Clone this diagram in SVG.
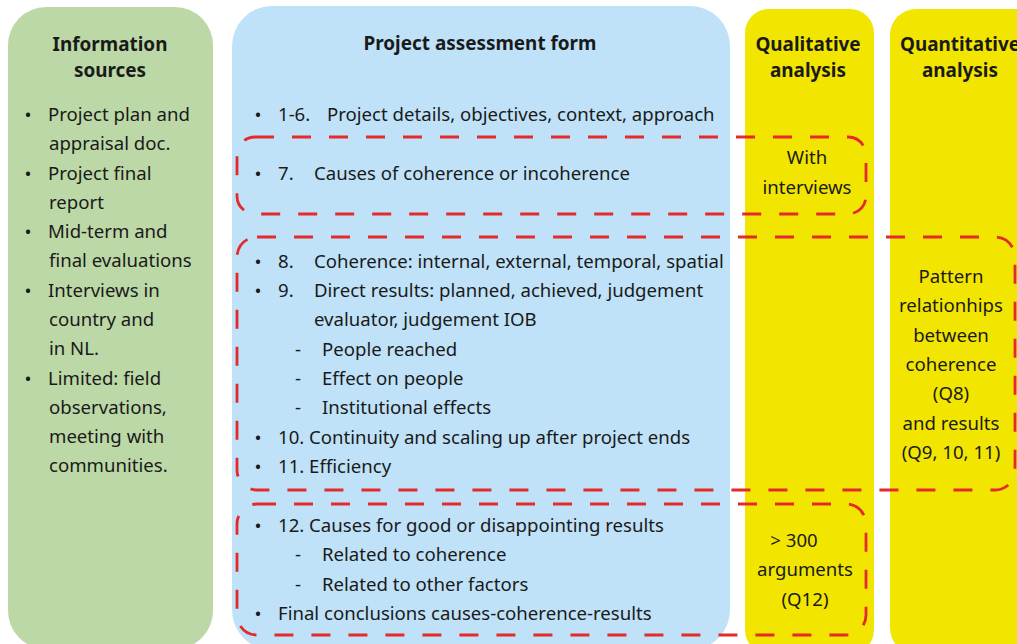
<svg xmlns="http://www.w3.org/2000/svg" width="1017" height="644" viewBox="0 0 1017 644">
<style>
text{font-family:"Noto Sans","Open Sans","DejaVu Sans",sans-serif;font-size:18.6px;fill:#1a1a1a}
.h{font-weight:bold;font-size:18.9px}
.c{text-anchor:middle}
.dash{fill:none;stroke:#E42A2B;stroke-width:2.8;stroke-dasharray:19 18}
</style>
<rect width="1017" height="644" fill="#ffffff"/>
<g id="info-sources">
<rect x="8" y="7" width="205" height="642" rx="38" fill="#BBD8A6"/>
<text class="h c" x="110" y="51">Information</text>
<text class="h c" x="110" y="77">sources</text>
<g>
<text class="c" x="28" y="121">•</text><text x="48" y="121">Project plan and</text>
<text x="49" y="150">appraisal doc.</text>
<text class="c" x="28" y="180">•</text><text x="48" y="180">Project final</text>
<text x="49" y="209">report</text>
<text class="c" x="28" y="238">•</text><text x="48" y="238">Mid-term and</text>
<text x="49" y="267">final evaluations</text>
<text class="c" x="28" y="297">•</text><text x="48" y="297">Interviews in</text>
<text x="49" y="326">country and</text>
<text x="49" y="355">in NL.</text>
<text class="c" x="28" y="385">•</text><text x="48" y="385">Limited: field</text>
<text x="49" y="414">observations,</text>
<text x="49" y="443">meeting with</text>
<text x="49" y="472">communities.</text>
</g>
</g>
<g id="assessment-form">
<rect x="232" y="6" width="498" height="644" rx="40" fill="#BFE2F8"/>
<text class="h c" x="480" y="50">Project assessment form</text>
<text class="c" x="258" y="121">•</text><text x="278" y="121">1-6.</text><text x="327" y="121">Project details, objectives, context, approach</text>
<text class="c" x="258" y="180">•</text><text x="278" y="180">7.</text><text x="314" y="180">Causes of coherence or incoherence</text>
<text class="c" x="258" y="268">•</text><text x="278" y="268">8.</text><text x="314" y="268">Coherence: internal, external, temporal, spatial</text>
<text class="c" x="258" y="297">•</text><text x="278" y="297">9.</text><text x="314" y="297">Direct results: planned, achieved, judgement</text>
<text x="314" y="326">evaluator, judgement IOB</text>
<text class="c" x="298" y="356">-</text><text x="322" y="356">People reached</text>
<text class="c" x="298" y="385">-</text><text x="322" y="385">Effect on people</text>
<text class="c" x="298" y="414">-</text><text x="322" y="414">Institutional effects</text>
<text class="c" x="258" y="444">•</text><text x="278" y="444">10. Continuity and scaling up after project ends</text>
<text class="c" x="258" y="473">•</text><text x="278" y="473">11. Efficiency</text>
<text class="c" x="258" y="532">•</text><text x="278" y="532">12. Causes for good or disappointing results</text>
<text class="c" x="298" y="561">-</text><text x="322" y="561">Related to coherence</text>
<text class="c" x="298" y="591">-</text><text x="322" y="591">Related to other factors</text>
<text class="c" x="258" y="620">•</text><text x="278" y="620">Final conclusions causes-coherence-results</text>
</g>
<g id="qualitative">
<rect x="745" y="9" width="129" height="645" rx="24" fill="#F2E600"/>
<text class="h c" x="808" y="51">Qualitative</text>
<text class="h c" x="808" y="77">analysis</text>
<text class="c" x="807" y="164">With</text>
<text class="c" x="807" y="194">interviews</text>
<text class="c" x="794" y="547">&gt; 300</text>
<text class="c" x="805" y="576">arguments</text>
<text class="c" x="805" y="606">(Q12)</text>
</g>
<g id="quantitative">
<rect x="890" y="9" width="160" height="645" rx="26" fill="#F2E600"/>
<text class="h c" x="960" y="51">Quantitative</text>
<text class="h c" x="960" y="77">analysis</text>
<text class="c" x="951" y="283">Pattern</text>
<text class="c" x="951" y="312">relationhips</text>
<text class="c" x="951" y="342">between</text>
<text class="c" x="951" y="371">coherence</text>
<text class="c" x="951" y="400">(Q8)</text>
<text class="c" x="951" y="430">and results</text>
<text class="c" x="951" y="459">(Q9, 10, 11)</text>
</g>
<g id="connectors">
<rect class="dash" x="237" y="137" width="629" height="77" rx="18"/>
<rect class="dash" x="237" y="237" width="778" height="253" rx="20"/>
<rect class="dash" x="237" y="504" width="629" height="131" rx="20"/>
</g>
</svg>
